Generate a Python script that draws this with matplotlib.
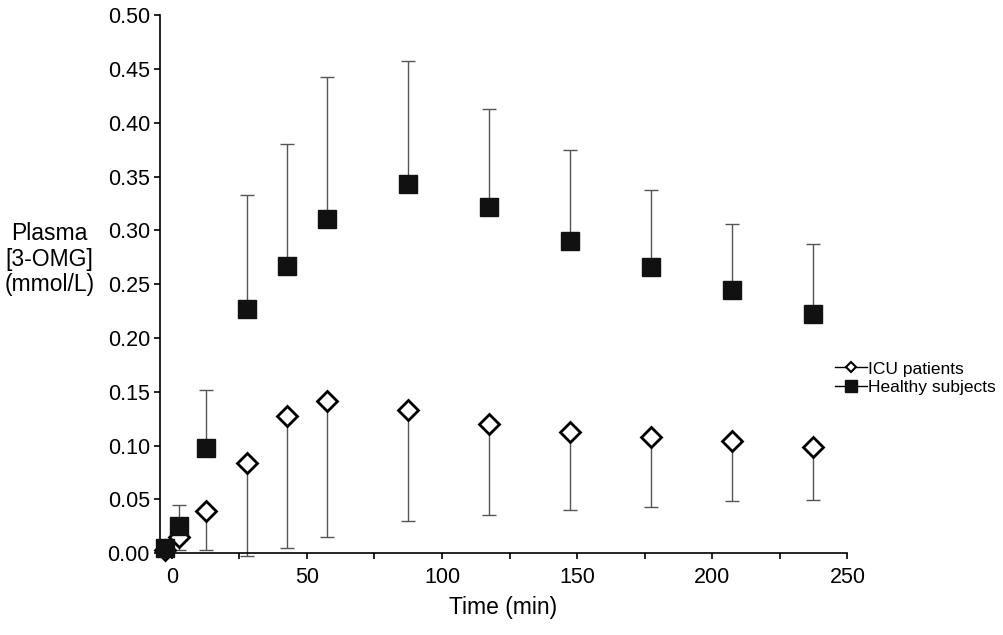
import numpy as np
import matplotlib.pyplot as plt
from matplotlib.ticker import MultipleLocator

plt.rcParams['font.family'] = ['Liberation Sans', 'DejaVu Sans']

# sampling times (min), as placed in the picture
time_min = [-2.5, 2.8, 12.5, 27.8, 42.6, 57.4, 87.4, 117.4, 147.4, 177.4, 207.4, 237.4]

# healthy subjects: mean and upper error
healthy = [0.005, 0.025, 0.098, 0.227, 0.267, 0.311, 0.343, 0.322, 0.290, 0.266, 0.245, 0.222]
healthy_err = [0.007, 0.020, 0.054, 0.106, 0.113, 0.132, 0.114, 0.091, 0.085, 0.072, 0.061, 0.065]

# ICU patients: mean and lower error
icu_time = [-2.5, 2.8, 12.5, 27.8, 42.6, 57.4, 87.4, 117.4, 147.4, 177.4, 207.4, 237.4]
icu = [0.003, 0.015, 0.039, 0.084, 0.127, 0.141, 0.133, 0.120, 0.113, 0.108, 0.104, 0.099]
icu_err = [0.006, 0.012, 0.036, 0.087, 0.122, 0.126, 0.103, 0.085, 0.073, 0.065, 0.056, 0.050]

fig = plt.figure(figsize=(10.04, 6.35), dpi=100)
ax = fig.add_axes([0.159, 0.129, 0.685, 0.847])

err_color = '#555555'
ax.errorbar(icu_time, icu, yerr=[icu_err, np.zeros(len(icu))], fmt='none',
            ecolor=err_color, elinewidth=1, capsize=5, capthick=1, clip_on=False, zorder=2)
ax.errorbar(time_min, healthy, yerr=[np.zeros(len(healthy)), healthy_err], fmt='none',
            ecolor=err_color, elinewidth=1, capsize=5, capthick=1, clip_on=False, zorder=2)

ax.plot(icu_time, icu, linestyle='none', marker='D', markersize=10,
        markerfacecolor='white', markeredgecolor='black', markeredgewidth=2,
        clip_on=False, zorder=3)
ax.plot(time_min, healthy, linestyle='none', marker='s', markersize=12.5,
        markerfacecolor='#111111', markeredgecolor='#111111',
        clip_on=False, zorder=4)

# legend handles: line with marker
h1, = ax.plot([], [], color='black', lw=1, marker='D', markersize=5,
              markerfacecolor='white', markeredgecolor='black', markeredgewidth=1.5)
h2, = ax.plot([], [], color='black', lw=1, marker='s', markersize=8,
              markerfacecolor='#111111', markeredgecolor='#111111')
ax.legend([h1, h2], ['ICU patients', 'Healthy subjects'], loc='center left',
          bbox_to_anchor=(0.96, 0.325), frameon=False, fontsize=12.5,
          handlelength=1.8, handletextpad=0.05, labelspacing=0.2)

ax.set_xlim(-4.5, 250)
ax.set_ylim(0, 0.5)
ax.xaxis.set_major_locator(MultipleLocator(50))
ax.xaxis.set_minor_locator(MultipleLocator(25))
ax.yaxis.set_major_locator(MultipleLocator(0.05))
ax.yaxis.set_major_formatter(plt.FormatStrFormatter('%.2f'))
ax.tick_params(which='both', direction='out', length=4, width=1.2, labelsize=15.5)
ax.tick_params(axis='x', pad=6)
ax.tick_params(axis='y', pad=3)
for side in ['left', 'bottom']:
    ax.spines[side].set_linewidth(1.2)
ax.spines['top'].set_visible(False)
ax.spines['right'].set_visible(False)

ax.set_xlabel('Time (min)', fontsize=16.5, labelpad=6)
fig.text(0.049, 0.592, 'Plasma\n[3-OMG]\n(mmol/L)', fontsize=16.5,
         ha='center', va='center', linespacing=1.15)

fig.savefig('out.png', dpi=100)
